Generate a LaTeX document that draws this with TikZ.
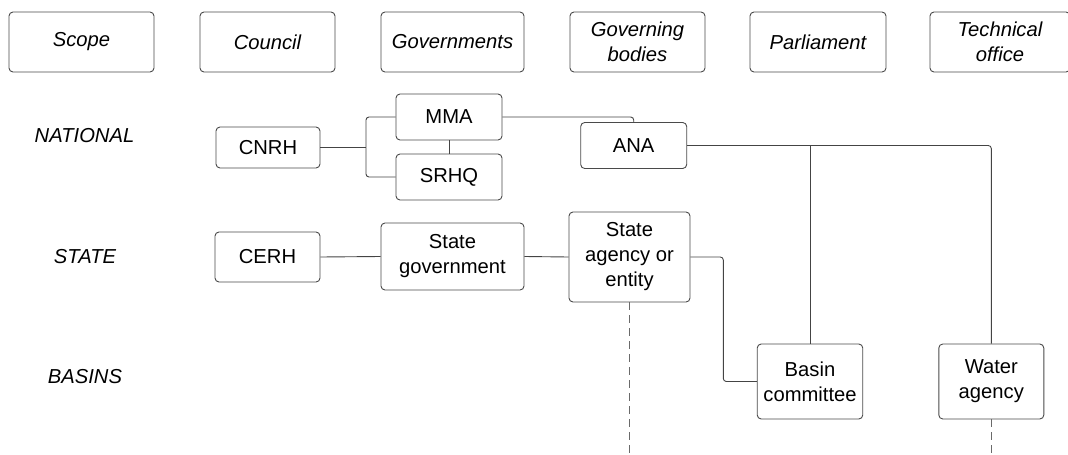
\documentclass[tikz,border=0pt]{standalone}
\usepackage{fontspec}
\setmainfont{Liberation Sans}
\definecolor{boxgray}{HTML}{4A4A4A}
\definecolor{linegray}{HTML}{444444}
\definecolor{dashgray}{HTML}{6A6A6A}
\begin{document}
\begin{tikzpicture}[x=1pt,y=-1pt,
  box/.style={draw=boxgray, line width=0.9pt, rounded corners=4pt, align=center, inner sep=0pt,
    font=\fontsize{20.2}{25}\selectfont, text=black},
  head/.style={box, minimum height=60pt, font=\fontsize{20.2}{25}\selectfont\itshape},
  rowlabel/.style={inner sep=0pt, font=\fontsize{20.2}{25}\selectfont\itshape, text=black},
  conn/.style={draw=linegray, line width=0.9pt, rounded corners=3pt},
  dconn/.style={draw=dashgray, line width=0.9pt, dash pattern=on 8pt off 5pt}]
\useasboundingbox (0,0) rectangle (1068,455);
% header row
\node[head, minimum width=145pt] (hscope) at (81.5,42) {Scope};
\node[head, minimum width=135pt] (hcouncil) at (267.5,42) {Council};
\node[head, minimum width=143pt] (hgov) at (452.5,42) {Governments};
\node[head, minimum width=135pt] (hgb) at (637.5,42) {Governing\\bodies};
\node[head, minimum width=136pt] (hparl) at (818,42) {Parliament};
\node[head, minimum width=140pt] (htech) at (1000,42) {Technical\\office};
% row labels
\node[rowlabel] (lnat) at (84.5,136) {NATIONAL};
\node[rowlabel] (lstate) at (85,257) {STATE};
\node[rowlabel] (lbasin) at (85,377) {BASINS};
% national
\node[box, minimum width=104pt, minimum height=41pt] (cnrh) at (268,147.5) {CNRH};
\node[box, minimum width=106pt, minimum height=46pt] (mma) at (449,117) {MMA};
\node[box, minimum width=106pt, minimum height=46pt] (srhq) at (449,177) {SRHQ};
\node[box, minimum width=106pt, minimum height=46pt] (ana) at (633.7,145.5) {ANA};
% state
\node[box, minimum width=105pt, minimum height=50pt] (cerh) at (267.5,257) {CERH};
\node[box, minimum width=143pt, minimum height=67pt] (stgov) at (452.5,256.5) {State\\government};
\node[box, minimum width=121pt, minimum height=90pt] (stag) at (629.5,257) {State\\agency or\\entity};
% basins
\node[box, minimum width=105.5pt, minimum height=75pt] (basin) at (810,381.5) {Basin\\committee};
\node[box, minimum width=105pt, minimum height=75pt] (water) at (991.3,381.5) {Water\\agency};
% helper coordinates
\coordinate (bk) at (366,147.5);
\coordinate (br) at (810,145.5);
\coordinate (sc) at (723.3,300);
\coordinate (d1) at (629.5,462);
\coordinate (d2) at (991.3,462);
% connectors
\draw[conn] (cnrh.east) -- (bk);
\draw[conn] (mma.west) -| (bk) |- (srhq.west);
\draw[conn] (mma.south) -- (srhq.north);
\draw[conn] (mma.east) -| (ana.north);
\draw[conn] (ana.east) -| (water.north);
\draw[conn] (br) -- (basin.north);
\draw[conn] (cerh.east) -- (stgov.west);
\draw[conn] (stgov.east) -- (stag.west);
\draw[conn] (stag.east) -| (sc) |- (basin.west);
\draw[dconn] (stag.south) -- (d1);
\draw[dconn] (water.south) -- (d2);
\end{tikzpicture}
\end{document}
